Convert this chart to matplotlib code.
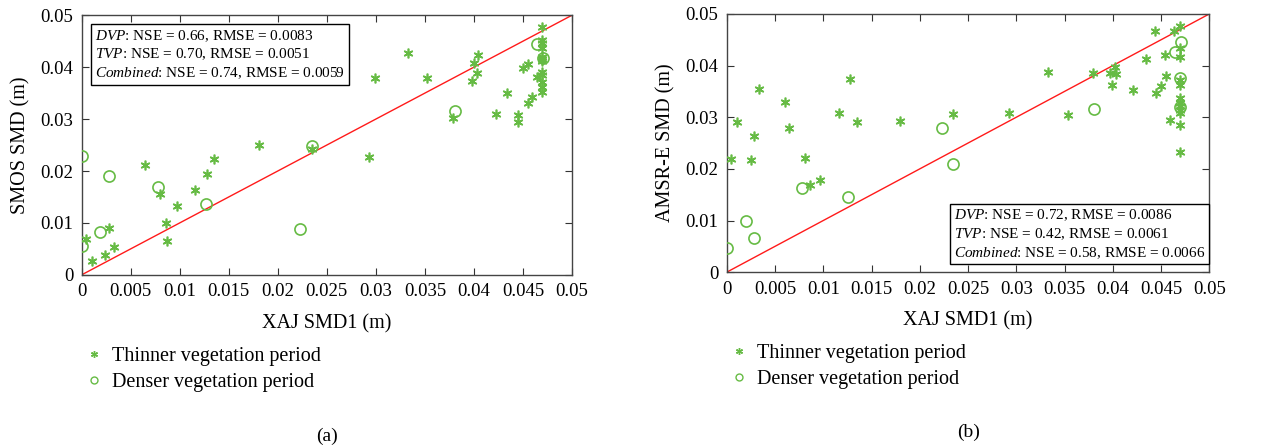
import matplotlib.pyplot as plt
from matplotlib.lines import Line2D

plt.rcParams['font.family'] = ['Liberation Serif', 'DejaVu Serif']
plt.rcParams['mathtext.fontset'] = 'custom'
plt.rcParams['mathtext.rm'] = 'Liberation Serif'
plt.rcParams['mathtext.it'] = 'Liberation Serif:italic'

# (a) XAJ vs SMOS
xaj_thin_a = [0.0469, 0.0469, 0.0469, 0.0469, 0.0404, 0.0333, 0.0400, 0.0455, 0.0450, 0.0403,
              0.0398, 0.0299, 0.0352, 0.0464, 0.0469, 0.0469, 0.0469, 0.0469, 0.0469, 0.0469,
              0.0469, 0.0469, 0.0434, 0.0459, 0.0455, 0.0423, 0.0379, 0.0445, 0.0445, 0.0181,
              0.0235, 0.0293, 0.0135, 0.0065, 0.0128, 0.0116, 0.0080, 0.0097, 0.0086, 0.0087,
              0.0028, 0.0005, 0.0033, 0.0024, 0.0011]
smos_thin = [0.0478, 0.0452, 0.0446, 0.0436, 0.0423, 0.0428, 0.0408, 0.0407, 0.0399, 0.0388,
             0.0374, 0.0380, 0.0379, 0.0381, 0.0420, 0.0416, 0.0412, 0.0391, 0.0385, 0.0372,
             0.0362, 0.0353, 0.0351, 0.0342, 0.0330, 0.0310, 0.0303, 0.0307, 0.0294, 0.0251,
             0.0242, 0.0227, 0.0224, 0.0212, 0.0194, 0.0164, 0.0156, 0.0133, 0.0100, 0.0066,
             0.0090, 0.0069, 0.0053, 0.0039, 0.0026]
xaj_dense_a = [0.0000, 0.0028, 0.0078, 0.0127, 0.0019, 0.0000, 0.0223, 0.0235, 0.0381, 0.0464, 0.0470]
smos_dense = [0.0229, 0.0191, 0.0169, 0.0136, 0.0083, 0.0056, 0.0089, 0.0248, 0.0316, 0.0445, 0.0418]

# (b) XAJ vs AMSR-E
xaj_thin_b = [0.0004, 0.0011, 0.0025, 0.0028, 0.0033, 0.0060, 0.0065, 0.0081, 0.0086, 0.0097,
              0.0116, 0.0128, 0.0135, 0.0180, 0.0234, 0.0292, 0.0333, 0.0353, 0.0379, 0.0397,
              0.0402, 0.0403, 0.0399, 0.0421, 0.0434, 0.0444, 0.0445, 0.0450, 0.0454, 0.0455,
              0.0459, 0.0463, 0.0469, 0.0469, 0.0469, 0.0469, 0.0469, 0.0469, 0.0469, 0.0469,
              0.0469, 0.0469, 0.0469, 0.0469]
amsre_thin = [0.0219, 0.0290, 0.0218, 0.0263, 0.0354, 0.0330, 0.0280, 0.0222, 0.0168, 0.0179,
              0.0308, 0.0374, 0.0290, 0.0293, 0.0306, 0.0309, 0.0388, 0.0304, 0.0385, 0.0385,
              0.0398, 0.0384, 0.0362, 0.0352, 0.0412, 0.0466, 0.0347, 0.0360, 0.0421, 0.0379,
              0.0295, 0.0467, 0.0477, 0.0434, 0.0417, 0.0372, 0.0363, 0.0337, 0.0327, 0.0321,
              0.0314, 0.0308, 0.0285, 0.0233]
xaj_dense_b = [0.0000, 0.0020, 0.0028, 0.0078, 0.0126, 0.0223, 0.0234, 0.0380, 0.0464, 0.0470, 0.0469, 0.0469]
amsre_dense = [0.0046, 0.0100, 0.0067, 0.0163, 0.0146, 0.0280, 0.0210, 0.0316, 0.0427, 0.0445, 0.0375, 0.0320]

stats_a = [("DVP", 0.66, 0.0083), ("TVP", 0.70, 0.0051), ("Combined", 0.74, 0.0059)]
stats_b = [("DVP", 0.72, 0.0086), ("TVP", 0.42, 0.0061), ("Combined", 0.58, 0.0066)]

ticks_x = [0, 0.005, 0.01, 0.015, 0.02, 0.025, 0.03, 0.035, 0.04, 0.045, 0.05]
ticks_y = [0, 0.01, 0.02, 0.03, 0.04, 0.05]

green = '#66bb44'
asterisk = (6, 2, 0)

fig = plt.figure(figsize=(12.8, 4.47), dpi=100)
ax_a = fig.add_axes([0.0637, 0.385, 0.3832, 0.581])
ax_b = fig.add_axes([0.5677, 0.391, 0.3772, 0.578])


def stat_text(stats):
    lines = []
    for name, nse, rmse in stats:
        lines.append(r"$\mathit{%s}$: NSE = %.2f, RMSE = %.4f" % (name, nse, rmse))
    return "\n".join(lines)


def draw(ax, xt, yt, xd, yd, ylabel, stats, box_pos, box_va, tag):
    ax.plot([0, 0.05], [0, 0.05], color='#ff1a1a', lw=1.0, zorder=1)
    ax.plot(xt, yt, linestyle='none', marker=asterisk, markersize=7, mew=1.2,
            color=green, zorder=3)
    ax.plot(xd, yd, linestyle='none', marker='o', markersize=8, mfc='none', mew=1.2,
            mec=green, zorder=3)
    ax.set_xlim(0, 0.05)
    ax.set_ylim(0, 0.05)
    ax.set_xticks(ticks_x)
    ax.set_xticklabels(['0'] + [('%g' % t) for t in ticks_x[1:]])
    ax.set_yticks(ticks_y)
    ax.set_yticklabels(['0'] + [('%g' % t) for t in ticks_y[1:]])
    ax.tick_params(direction='in', top=True, right=True, labelsize=13.5, length=5,
                   color='#333333', pad=6)
    for s in ax.spines.values():
        s.set_color('#444444')
        s.set_linewidth(1.0)
    ax.set_xlabel("XAJ SMD1 (m)", fontsize=14.5, labelpad=10)
    ax.set_ylabel(ylabel, fontsize=14.5, labelpad=7)
    ax.text(box_pos[0], box_pos[1], stat_text(stats), transform=ax.transAxes,
            fontsize=11, va=box_va, ha='left', linespacing=1.25, zorder=5,
            bbox=dict(boxstyle='square,pad=0.25', fc='white', ec='black', lw=1.0))
    handles = [
        Line2D([], [], linestyle='none', marker=asterisk, markersize=5, mew=1.0, color=green),
        Line2D([], [], linestyle='none', marker='o', markersize=5, mfc='none', mew=1.0, mec=green),
    ]
    ax.legend(handles, ["Thinner vegetation period", "Denser vegetation period"],
              loc='upper left', bbox_to_anchor=(-0.012, -0.245), frameon=False,
              fontsize=14.5, handlelength=1.0, handletextpad=0.4, labelspacing=0.35,
              borderaxespad=0)
    ax.text(0.5, -0.62, tag, transform=ax.transAxes, ha='center', va='center', fontsize=14)


draw(ax_a, xaj_thin_a, smos_thin, xaj_dense_a, smos_dense, "SMOS SMD (m)",
     stats_a, (0.028, 0.95), 'top', "(a)")
draw(ax_b, xaj_thin_b, amsre_thin, xaj_dense_b, amsre_dense, "AMSR-E SMD (m)",
     stats_b, (0.47, 0.045), 'bottom', "(b)")

fig.savefig("out.png", dpi=100)
